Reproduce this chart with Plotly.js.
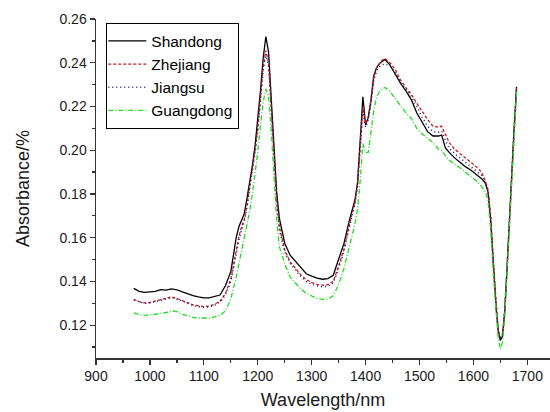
<!DOCTYPE html>
<html>
<head>
<meta charset="utf-8">
<script src="https://cdn.plot.ly/plotly-3.0.1.min.js"></script>
<style>html,body{margin:0;padding:0;background:#fff;}#chart{width:550px;height:412px;}</style>
</head>
<body>
<div id="chart"></div>
<script>
// Wavelength grid (nm)
const wavelength = [
  970,980,990,1000,1010,1020,1030,1040,1050,1060,1070,1080,1090,1100,1110,1120,1130,
  1140,1150,1160,1165,1170,1175,1180,1185,1190,1195,1200,1205,1210,1215,1220,1225,1230,1235,1240,
  1250,1260,1270,1280,1290,1300,1310,1320,1330,1340,1350,1360,1370,1380,
  1385,1390,1395,1400,1405,1410,1415,1420,1425,1430,
  1436,1445,1455,1465,1475,1485,1495,1505,1515,1525,1535,
  1541,1548,1555,1565,1575,1585,1595,1605,1615,1622,1627,
  1632,1637,1642,1646,1650,1654,1658,1662,1666,1670,1675,1680
];

const shandong = [
  0.1368,0.1355,0.1350,0.1352,0.1355,0.1363,0.1360,0.1366,0.1362,0.1352,0.1343,0.1335,0.1329,0.1325,0.1325,0.1330,0.1338,
  0.1380,0.1445,0.1600,0.1650,0.1680,0.1710,0.1780,0.1850,0.1930,0.2020,0.2130,0.2270,0.2420,0.2520,0.2450,0.2250,0.2030,0.1810,0.1690,
  0.1575,0.1520,0.1490,0.1460,0.1435,0.1424,0.1415,0.1410,0.1413,0.1428,0.1505,0.1575,0.1680,0.1770,
  0.1850,0.2040,0.2244,0.2115,0.2150,0.2230,0.2340,0.2375,0.2395,0.2405,
  0.2415,0.2390,0.2345,0.2305,0.2270,0.2230,0.2170,0.2125,0.2085,0.2065,0.2065,
  0.2069,0.2010,0.1990,0.1965,0.1945,0.1925,0.1910,0.1890,0.1870,0.1850,0.1810,
  0.1680,0.1465,0.1280,0.1170,0.1130,0.1150,0.1260,0.1440,0.1650,0.1860,0.2080,0.2290
];

const zhejiang = [
  0.1318,0.1308,0.1302,0.1304,0.1310,0.1316,0.1320,0.1329,0.1322,0.1312,0.1302,0.1293,0.1288,0.1285,0.1287,0.1296,0.1310,
  0.1345,0.1410,0.1545,0.1605,0.1650,0.1685,0.1750,0.1830,0.1910,0.2000,0.2100,0.2240,0.2380,0.2455,0.2400,0.2200,0.1990,0.1780,0.1650,
  0.1545,0.1490,0.1460,0.1430,0.1408,0.1395,0.1387,0.1383,0.1385,0.1400,0.1470,0.1550,0.1660,0.1760,
  0.1840,0.2000,0.2200,0.2120,0.2150,0.2230,0.2330,0.2375,0.2395,0.2410,
  0.2420,0.2400,0.2370,0.2320,0.2285,0.2255,0.2215,0.2175,0.2140,0.2110,0.2105,
  0.2110,0.2070,0.2035,0.2005,0.1985,0.1965,0.1945,0.1925,0.1900,0.1860,0.1820,
  0.1700,0.1480,0.1290,0.1180,0.1140,0.1160,0.1270,0.1450,0.1660,0.1870,0.2080,0.2285
];

const jiangsu = [
  0.1315,0.1306,0.1300,0.1302,0.1308,0.1314,0.1318,0.1326,0.1320,0.1310,0.1300,0.1290,0.1285,0.1282,0.1284,0.1292,0.1305,
  0.1338,0.1400,0.1530,0.1590,0.1635,0.1675,0.1740,0.1820,0.1900,0.1990,0.2090,0.2225,0.2365,0.2440,0.2385,0.2185,0.1975,0.1765,0.1635,
  0.1535,0.1482,0.1452,0.1422,0.1400,0.1388,0.1380,0.1375,0.1378,0.1393,0.1460,0.1540,0.1650,0.1750,
  0.1830,0.1990,0.2180,0.2105,0.2140,0.2215,0.2315,0.2360,0.2380,0.2390,
  0.2395,0.2385,0.2355,0.2310,0.2275,0.2245,0.2200,0.2150,0.2110,0.2085,0.2082,
  0.2088,0.2045,0.2010,0.1985,0.1965,0.1945,0.1928,0.1908,0.1885,0.1855,0.1815,
  0.1690,0.1470,0.1285,0.1175,0.1135,0.1155,0.1265,0.1445,0.1655,0.1865,0.2080,0.2285
];

const guangdong = [
  0.1256,0.1248,0.1245,0.1246,0.1250,0.1254,0.1258,0.1266,0.1262,0.1250,0.1242,0.1236,0.1233,0.1232,0.1233,0.1238,0.1245,
  0.1265,0.1320,0.1420,0.1480,0.1540,0.1590,0.1650,0.1720,0.1800,0.1890,0.1990,0.2110,0.2220,0.2280,0.2250,0.2090,0.1880,0.1680,0.1560,
  0.1480,0.1420,0.1390,0.1365,0.1345,0.1332,0.1322,0.1318,0.1320,0.1335,0.1385,0.1460,0.1560,0.1660,
  0.1730,0.1860,0.2030,0.1990,0.1990,0.2080,0.2180,0.2240,0.2265,0.2280,
  0.2287,0.2270,0.2235,0.2200,0.2170,0.2145,0.2100,0.2075,0.2055,0.2035,0.2005,
  0.2000,0.1975,0.1955,0.1935,0.1920,0.1900,0.1880,0.1860,0.1835,0.1810,0.1770,
  0.1640,0.1430,0.1250,0.1140,0.1090,0.1125,0.1240,0.1420,0.1630,0.1840,0.2060,0.2270
];

const seriesNames = ["Shandong", "Zhejiang", "Jiangsu", "Guangdong"];
const xTicks = [900,1000,1100,1200,1300,1400,1500,1600,1700];
const yTicks = [0.12,0.14,0.16,0.18,0.20,0.22,0.24,0.26];

const styles = [
  {color:"#000000", dash:"solid", width:1.3},
  {color:"#cc1a1a", dash:"3px,2px", width:1.3},
  {color:"#1a1a80", dash:"1px,3px", width:1.5},
  {color:"#22dd22", dash:"5px,2px,1px,2px", width:1.3}
];
const ys = [shandong, zhejiang, jiangsu, guangdong];

const traces = ys.map((y, i) => ({
  x: wavelength, y: y, type: "scatter", mode: "lines", name: seriesNames[i],
  line: {color: styles[i].color, dash: styles[i].dash, width: styles[i].width}
}));

const font = {family: "Liberation Sans, Arial, sans-serif", color: "#1a1a1a"};

const layout = {
  width: 550, height: 412,
  margin: {l: 96, r: 0, t: 19, b: 54, pad: 0},
  paper_bgcolor: "#fff", plot_bgcolor: "#fff",
  font: font,
  showlegend: true,
  legend: {
    x: 0.022, y: 0.988, xanchor: "left", yanchor: "top",
    bordercolor: "#000", borderwidth: 1.3, bgcolor: "#fff",
    font: {family: font.family, size: 15.5, color: "#000"},
    itemwidth: 38, tracegroupgap: 0, indentation: -4
  },
  xaxis: {
    range: [900, 1742], tickmode: "array", tickvals: xTicks,
    ticks: "outside", ticklen: 5, tickwidth: 1.3, tickcolor: "#333",
    showline: true, linecolor: "#333", linewidth: 1.5,
    showgrid: false, zeroline: false, mirror: false,
    tickfont: {family: font.family, size: 14, color: "#1a1a1a"},
    minor: {dtick: 50, tick0: 900, ticks: "outside", ticklen: 3, tickcolor: "#333", showgrid: false},
    title: {text: "Wavelength/nm", font: {family: font.family, size: 18, color: "#1a1a1a"}, standoff: 10}
  },
  yaxis: {
    range: [0.105, 0.26], tickmode: "array", tickvals: yTicks, tickformat: ".2f",
    ticks: "outside", ticklen: 5, tickwidth: 1.3, tickcolor: "#333",
    showline: true, linecolor: "#333", linewidth: 1.5,
    showgrid: false, zeroline: false, mirror: false,
    tickfont: {family: font.family, size: 14, color: "#1a1a1a"},
    minor: {dtick: 0.01, tick0: 0.12, ticks: "outside", ticklen: 3, tickcolor: "#333", showgrid: false},
    title: {text: "Absorbance/%", font: {family: font.family, size: 18, color: "#1a1a1a"}, standoff: 25}
  }
};

Plotly.newPlot("chart", traces, layout, {staticPlot: true, displayModeBar: false});
</script>
</body>
</html>
